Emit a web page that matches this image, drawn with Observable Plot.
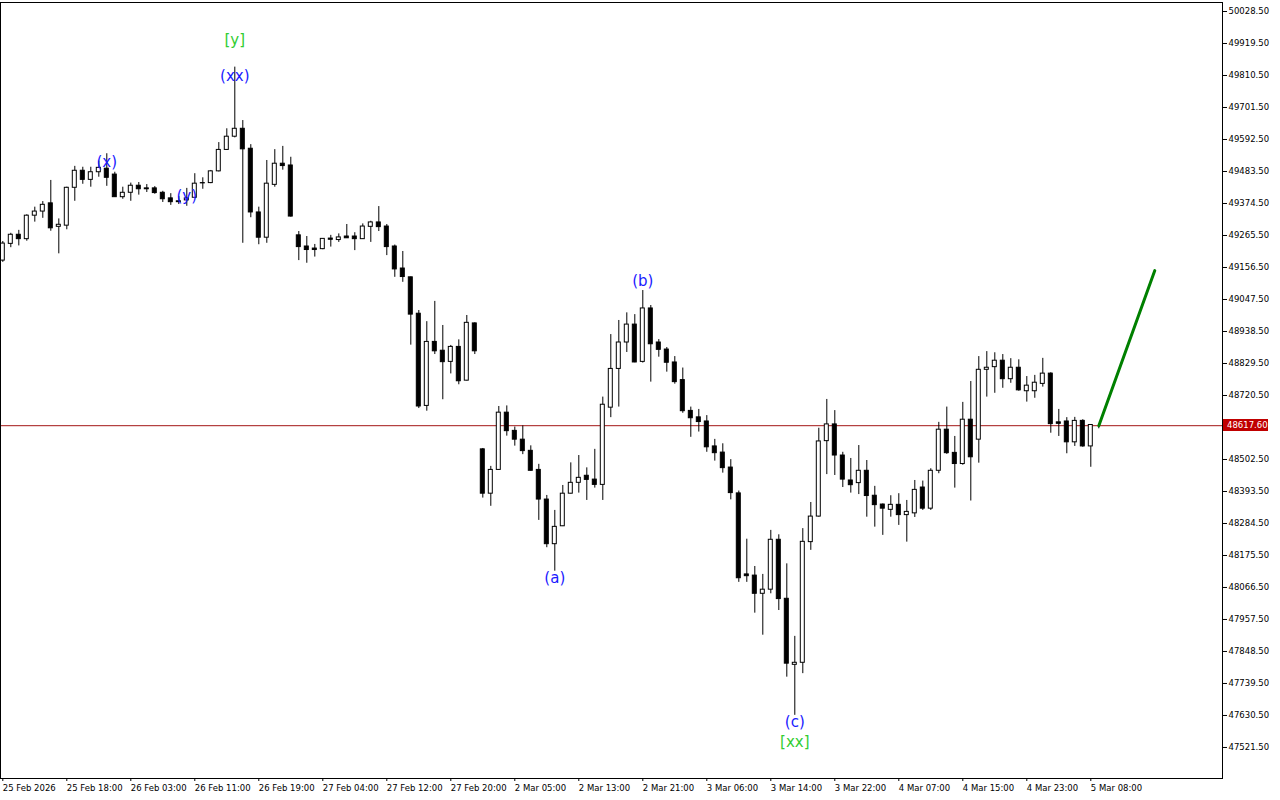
<!DOCTYPE html>
<html>
<head>
<meta charset="utf-8">
<script src="https://cdn.jsdelivr.net/npm/d3@7"></script>
<script src="https://cdn.jsdelivr.net/npm/@observablehq/plot@0.6"></script>
<style>
  html, body { margin: 0; padding: 0; background: #ffffff; overflow: hidden; }
  #chart svg { display: block; }
</style>
</head>
<body>
<div id="chart"></div>
<script>
// ---- data (hourly candles, index 0..137) ----
const opens = [
  49180, 49237, 49268, 49253, 49333, 49347, 49375, 49295, 49299, 49428,
  49486, 49455, 49481, 49493, 49473, 49396, 49411, 49435, 49426, 49426,
  49411, 49392, 49382, 49385, 49394, 49444, 49444, 49484, 49557, 49602,
  49629, 49561, 49344, 49258, 49438, 49510, 49504, 49266, 49228, 49221,
  49219, 49255, 49250, 49262, 49262, 49253, 49295, 49310, 49296, 49228,
  49153, 49123, 48999, 48685, 48903, 48873, 48835, 48886, 48771, 48966,
  48537, 48386, 48467, 48662, 48600, 48570, 48532, 48467, 48366, 48214,
  48275, 48386, 48423, 48447, 48434, 48416, 48679, 48811, 48901, 48962,
  48835, 49017, 48901, 48877, 48833, 48773, 48668, 48646, 48632, 48547,
  48526, 48475, 48387, 48111, 48107, 48045, 48059, 48229, 48028, 47803,
  47810, 48221, 48308, 48565, 48622, 48516, 48431, 48422, 48464, 48379,
  48349, 48331, 48348, 48313, 48319, 48407, 48335, 48464, 48604, 48525,
  48487, 48638, 48570, 48808, 48817, 48839, 48776, 48815, 48735, 48735,
  48760, 48795, 48629, 48632, 48561, 48634, 48547, 48617.6
];
const highs = [
  49245, 49273, 49283, 49336, 49362, 49381, 49453, 49322, 49430, 49501,
  49498, 49498, 49519, 49544, 49481, 49430, 49444, 49446, 49439, 49432,
  49416, 49408, 49398, 49426, 49476, 49462, 49487, 49582, 49629, 49839,
  49657, 49575, 49362, 49521, 49558, 49569, 49532, 49279, 49262, 49235,
  49254, 49266, 49271, 49303, 49275, 49305, 49314, 49364, 49303, 49233,
  49211, 49124, 49010, 48972, 49041, 48959, 48891, 48910, 48993, 48968,
  48540, 48479, 48683, 48685, 48613, 48617, 48549, 48486, 48380, 48329,
  48414, 48491, 48516, 48474, 48537, 48715, 48928, 48976, 49002, 48996,
  49078, 49027, 48911, 48884, 48853, 48814, 48681, 48673, 48652, 48571,
  48556, 48502, 48395, 48231, 48138, 48111, 48261, 48246, 48147, 47900,
  48267, 48356, 48609, 48707, 48669, 48527, 48506, 48550, 48499, 48411,
  48351, 48379, 48386, 48363, 48431, 48429, 48471, 48629, 48681, 48581,
  48697, 48768, 48853, 48870, 48866, 48860, 48846, 48842, 48785, 48789,
  48847, 48798, 48673, 48645, 48646, 48638, 48621, 48619
];
const lows = [
  49174, 49224, 49230, 49246, 49311, 49324, 49280, 49203, 49285, 49382,
  49440, 49430, 49464, 49433, 49396, 49389, 49382, 49403, 49412, 49406,
  49378, 49368, 49371, 49365, 49392, 49423, 49442, 49482, 49555, 49598,
  49239, 49326, 49234, 49239, 49430, 49488, 49328, 49180, 49171, 49192,
  49217, 49226, 49242, 49256, 49214, 49252, 49242, 49279, 49197, 49123,
  49106, 48892, 48676, 48667, 48860, 48706, 48794, 48757, 48770, 48860,
  48371, 48343, 48466, 48582, 48548, 48519, 48463, 48295, 48202, 48122,
  48274, 48385, 48388, 48363, 48405, 48363, 48645, 48681, 48867, 48832,
  48831, 48766, 48851, 48800, 48759, 48660, 48578, 48596, 48527, 48497,
  48456, 48365, 48084, 48084, 47979, 47904, 48045, 47988, 47761, 47631,
  47773, 48193, 48306, 48451, 48448, 48407, 48388, 48383, 48306, 48272,
  48244, 48306, 48278, 48221, 48305, 48329, 48329, 48454, 48520, 48405,
  48483, 48361, 48490, 48715, 48728, 48745, 48762, 48735, 48698, 48711,
  48749, 48592, 48581, 48522, 48547, 48544, 48476, 48607
];
const closes = [
  49238, 49268, 49253, 49333, 49347, 49370, 49290, 49302, 49428, 49486,
  49455, 49481, 49496, 49462, 49396, 49411, 49435, 49423, 49423, 49410,
  49389, 49379, 49379, 49392, 49442, 49443, 49484, 49557, 49602, 49629,
  49559, 49344, 49258, 49442, 49510, 49502, 49330, 49226, 49216, 49216,
  49254, 49251, 49259, 49256, 49253, 49296, 49310, 49294, 49226, 49150,
  49124, 48996, 48683, 48903, 48871, 48834, 48886, 48769, 48968, 48871,
  48386, 48467, 48662, 48599, 48570, 48531, 48464, 48366, 48214, 48273,
  48386, 48423, 48440, 48433, 48416, 48689, 48811, 48901, 48962, 48833,
  49017, 48895, 48876, 48832, 48766, 48667, 48643, 48630, 48544, 48524,
  48473, 48388, 48098, 48105, 48045, 48059, 48229, 48027, 47807, 47810,
  48222, 48308, 48564, 48622, 48516, 48434, 48415, 48464, 48378, 48347,
  48335, 48348, 48313, 48324, 48399, 48335, 48464, 48604, 48524, 48487,
  48638, 48510, 48808, 48815, 48839, 48776, 48815, 48738, 48754, 48764,
  48795, 48623, 48624, 48561, 48634, 48547, 48620, 48617.6
];

const currentPrice = 48617.6;

// time axis labels, one every 8 candles
const timeLabels = [
  "25 Feb 2026", "25 Feb 18:00", "26 Feb 03:00", "26 Feb 11:00", "26 Feb 19:00",
  "27 Feb 04:00", "27 Feb 12:00", "27 Feb 20:00", "2 Mar 05:00", "2 Mar 13:00",
  "2 Mar 21:00", "3 Mar 06:00", "3 Mar 14:00", "3 Mar 22:00", "4 Mar 07:00",
  "4 Mar 15:00", "4 Mar 23:00", "5 Mar 08:00"
];
const timeLabelStep = 8;

// price axis labels
const priceTicks = [
  50028.5, 49919.5, 49810.5, 49701.5, 49592.5, 49483.5, 49374.5, 49265.5,
  49156.5, 49047.5, 48938.5, 48829.5, 48720.5, 48502.5, 48393.5, 48284.5,
  48175.5, 48066.5, 47957.5, 47848.5, 47739.5, 47630.5, 47521.5
];

// wave labels
const waveText  = ["[y]", "(xx)", "(x)", "(y)", "(b)", "(a)", "(c)", "[xx]"];
const waveIndex = [29, 29, 13, 23, 80, 69, 99, 99];
const wavePrice = [49930, 49807, 49514, 49398, 49109, 48097, 47607, 47539];
const waveKind  = ["major", "minor", "minor", "minor", "minor", "minor", "minor", "major"];

// forecast arrow
const forecastIndex = [137, 144];
const forecastPrice = [48617.6, 49146];

// ---- build tables ----
const candles = opens.map((o, i) => ({i, o, h: highs[i], l: lows[i], c: closes[i]}));
const waves = waveText.map((t, k) => ({t, i: waveIndex[k], p: wavePrice[k], kind: waveKind[k]}));
const forecast = forecastIndex.map((i, k) => ({i, p: forecastPrice[k]}));
const timeTicks = timeLabels.map((_, k) => k * timeLabelStep);

const plot = Plot.plot({
  width: 1280,
  height: 800,
  marginLeft: 0,
  marginRight: 58,
  marginTop: 2,
  marginBottom: 22,
  style: {background: "#ffffff", fontFamily: "DejaVu Sans", fontSize: "8.5px", color: "#000000"},
  x: {type: "linear", domain: [-0.2875, 152.4625], axis: null, label: null},
  y: {type: "linear", domain: [47415.83, 50059.16], axis: null, label: null},
  marks: [
    Plot.ruleY([currentPrice], {stroke: "#a31515", strokeWidth: 1}),
    Plot.ruleX(candles, {x: "i", y1: "l", y2: "h", stroke: "#000000", strokeWidth: 1}),
    Plot.rect(candles, {
      x1: d => d.i - 0.25, x2: d => d.i + 0.25, y1: "o", y2: "c",
      fill: d => (d.c >= d.o ? "#ffffff" : "#000000"), stroke: "#000000", strokeWidth: 1
    }),
    Plot.line(forecast, {x: "i", y: "p", stroke: "#008000", strokeWidth: 3}),
    Plot.text(waves, {
      x: "i", y: "p", text: "t", fontSize: 15, fontFamily: "DejaVu Sans",
      fill: d => (d.kind === "major" ? "#32cd32" : "#1a1aff")
    }),
    Plot.frame({stroke: "#000000"}),
    Plot.axisY(priceTicks, {
      anchor: "right", tickSize: 4, tickPadding: 2, label: null,
      tickFormat: d => d.toFixed(2), fontSize: 8.5
    }),
    Plot.axisX(timeTicks, {
      anchor: "bottom", tickSize: 3, tickPadding: 3, textAnchor: "start", label: null,
      tickFormat: d => timeLabels[d / timeLabelStep], fontSize: 8.5
    })
  ]
});

document.getElementById("chart").appendChild(plot);

// current price tag on the right axis
const yPix = plot.scale("y").apply(currentPrice);
const svg = d3.select(plot);
const tag = svg.append("g").attr("text-anchor", "start");
tag.append("rect")
  .attr("x", 1223).attr("y", Math.round(yPix) - 6)
  .attr("width", 45).attr("height", 12)
  .attr("fill", "#c00000");
tag.append("text")
  .attr("x", 1227).attr("y", yPix + 3)
  .attr("text-anchor", "start")
  .attr("fill", "#ffffff")
  .attr("font-family", "DejaVu Sans")
  .attr("font-size", "8.5px")
  .text(currentPrice.toFixed(2));
</script>
</body>
</html>
